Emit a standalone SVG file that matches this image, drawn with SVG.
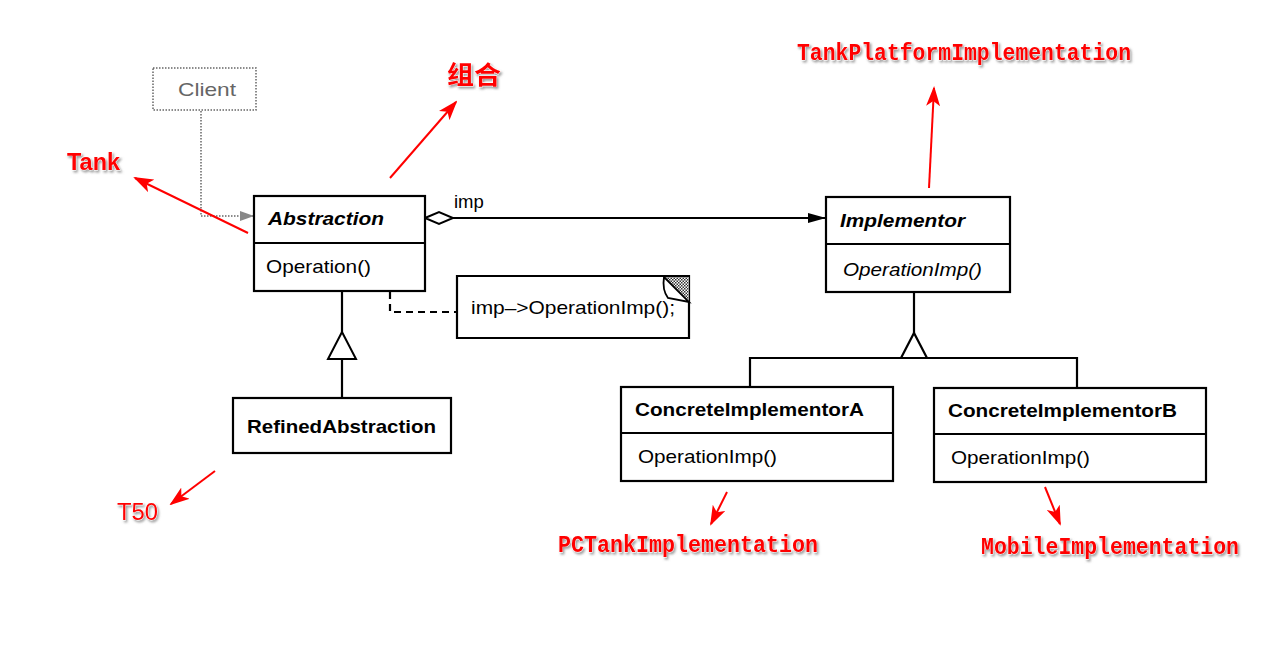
<svg xmlns="http://www.w3.org/2000/svg" width="1270" height="653" viewBox="0 0 1270 653">
<defs>
<style>
.box{fill:#fff;stroke:#000;stroke-width:2.2}
.ln{stroke:#000;stroke-width:2.2;fill:none}
.t{font-family:"Liberation Sans",Arial,sans-serif;font-size:18.5px;fill:#000}
.b{font-weight:bold}
.i{font-style:italic}
.red{stroke:#f00;stroke-width:2;fill:none}
.ann{fill:#f00;stroke:#fff;stroke-width:0.8;paint-order:stroke;filter:url(#sh)}
.mono{font-family:"Liberation Mono","Courier New",monospace;font-size:24px;font-weight:bold}
.sans{font-family:"Liberation Sans",Arial,sans-serif;font-size:24px;font-weight:bold}
</style>
<filter id="sh" x="-20%" y="-40%" width="140%" height="180%">
<feDropShadow dx="1.5" dy="2" stdDeviation="1.2" flood-color="#888" flood-opacity="0.8"/>
</filter>
<marker id="ra" viewBox="0 0 20 14" refX="18" refY="7" markerWidth="20" markerHeight="14" markerUnits="userSpaceOnUse" orient="auto">
<path d="M0,0 L20,7 L0,14 L5,7 Z" fill="#f00"/>
</marker>
<marker id="fa" viewBox="0 0 18 10" refX="18" refY="5" markerWidth="18" markerHeight="10" markerUnits="userSpaceOnUse" orient="auto">
<path d="M0,0 L18,5 L0,10 Z" fill="#000"/>
</marker>
<marker id="ga" viewBox="0 0 14 10" refX="14" refY="5" markerWidth="14" markerHeight="10" markerUnits="userSpaceOnUse" orient="auto">
<path d="M0,0 L14,5 L0,10 Z" fill="#888"/>
</marker>
<pattern id="dots" width="3" height="3" patternUnits="userSpaceOnUse">
<rect width="3" height="3" fill="#fff"/>
<rect width="1.5" height="1.5" fill="#333"/>
<rect x="1.5" y="1.5" width="1.5" height="1.5" fill="#333"/>
</pattern>
</defs>
<rect width="1270" height="653" fill="#fff"/>

<g id="connectors">
<path d="M201,111 V216 H254" fill="none" stroke="#666" stroke-width="1.5" stroke-dasharray="1.5,1.5" marker-end="url(#ga)"/>
<line class="ln" x1="453" y1="218" x2="826" y2="218" marker-end="url(#fa)"/>
<path d="M425,218 L439,212 L453,218 L439,224 Z" fill="#fff" stroke="#000" stroke-width="2"/>
<text class="t" x="454" y="208">imp</text>
<path class="ln" d="M390,268 V312 H457" stroke-dasharray="7,5"/>
<circle cx="390" cy="263" r="4.2" fill="#fff" stroke="#000" stroke-width="2"/>
<line class="ln" x1="342" y1="291" x2="342" y2="332"/>
<polygon points="342,332 356,359 328,359" fill="#fff" stroke="#000" stroke-width="2"/>
<line class="ln" x1="342" y1="359" x2="342" y2="398"/>
<line class="ln" x1="914" y1="292" x2="914" y2="333"/>
<path class="ln" d="M901,358 L914,333 L927,358"/>
<path class="ln" d="M750,387 V358 H1077 V387"/>
</g>

<g id="client">
<rect x="153" y="68" width="103" height="42" fill="#fff" stroke="#666" stroke-width="1.5" stroke-dasharray="1.5,1.5"/>
<text class="t" x="207" y="96" text-anchor="middle" style="fill:#666" textLength="58" lengthAdjust="spacingAndGlyphs">Client</text>
</g>

<g id="abstraction">
<rect class="box" x="254" y="196" width="171" height="95"/>
<line class="ln" x1="254" y1="243" x2="425" y2="243"/>
<text class="t b i" x="268" y="225" textLength="116" lengthAdjust="spacingAndGlyphs">Abstraction</text>
<text class="t" x="266" y="273" textLength="105" lengthAdjust="spacingAndGlyphs">Operation()</text>
</g>

<g id="note">
<path class="box" d="M457,276 H689 V338 H457 Z"/>
<polygon points="664,277 689,277 689,302" fill="url(#dots)"/>
<path d="M664,277 L689,302 L668,298 Q662,290 664,277 Z" fill="#fff" stroke="#000" stroke-width="1.8"/>
<text class="t" x="471" y="314" textLength="204" lengthAdjust="spacingAndGlyphs">imp–&gt;OperationImp();</text>
</g>

<g id="refined">
<rect class="box" x="233" y="398" width="218" height="55"/>
<text class="t b" x="247" y="433" textLength="189" lengthAdjust="spacingAndGlyphs">RefinedAbstraction</text>
</g>

<g id="implementor">
<rect class="box" x="826" y="197" width="184" height="95"/>
<line class="ln" x1="826" y1="244" x2="1010" y2="244"/>
<text class="t b i" x="840" y="227" textLength="125" lengthAdjust="spacingAndGlyphs">Implementor</text>
<text class="t i" x="843" y="276" textLength="139" lengthAdjust="spacingAndGlyphs">OperationImp()</text>
</g>

<g id="concreteA">
<rect class="box" x="621" y="387" width="272" height="94"/>
<line class="ln" x1="621" y1="433" x2="893" y2="433"/>
<text class="t b" x="635" y="416" textLength="229" lengthAdjust="spacingAndGlyphs">ConcreteImplementorA</text>
<text class="t" x="638" y="463" textLength="139" lengthAdjust="spacingAndGlyphs">OperationImp()</text>
</g>

<g id="concreteB">
<rect class="box" x="934" y="388" width="272" height="94"/>
<line class="ln" x1="934" y1="434" x2="1206" y2="434"/>
<text class="t b" x="948" y="417" textLength="229" lengthAdjust="spacingAndGlyphs">ConcreteImplementorB</text>
<text class="t" x="951" y="464" textLength="139" lengthAdjust="spacingAndGlyphs">OperationImp()</text>
</g>

<g id="annotations">
<line class="red" x1="248" y1="233" x2="135" y2="178" marker-end="url(#ra)"/>
<text class="ann sans" x="67" y="170" textLength="53" lengthAdjust="spacingAndGlyphs">Tank</text>
<line class="red" x1="390" y1="178" x2="456" y2="102" marker-end="url(#ra)"/>
<text class="ann" x="447" y="84" style="font-family:'Noto Sans CJK SC',sans-serif;font-size:25px;font-weight:bold" textLength="54" lengthAdjust="spacingAndGlyphs">组合</text>
<line class="red" x1="929" y1="188" x2="934" y2="88" marker-end="url(#ra)"/>
<text class="ann mono" x="797" y="60" textLength="334" lengthAdjust="spacingAndGlyphs">TankPlatformImplementation</text>
<line class="red" x1="215" y1="471" x2="171" y2="504" marker-end="url(#ra)"/>
<text class="ann sans" x="117" y="520" style="font-weight:normal" textLength="41" lengthAdjust="spacingAndGlyphs">T50</text>
<line class="red" x1="727" y1="492" x2="711" y2="524" marker-end="url(#ra)"/>
<text class="ann mono" x="558" y="552" textLength="260" lengthAdjust="spacingAndGlyphs">PCTankImplementation</text>
<line class="red" x1="1045" y1="487" x2="1060" y2="524" marker-end="url(#ra)"/>
<text class="ann mono" x="981" y="554" textLength="258" lengthAdjust="spacingAndGlyphs">MobileImplementation</text>
</g>
</svg>
